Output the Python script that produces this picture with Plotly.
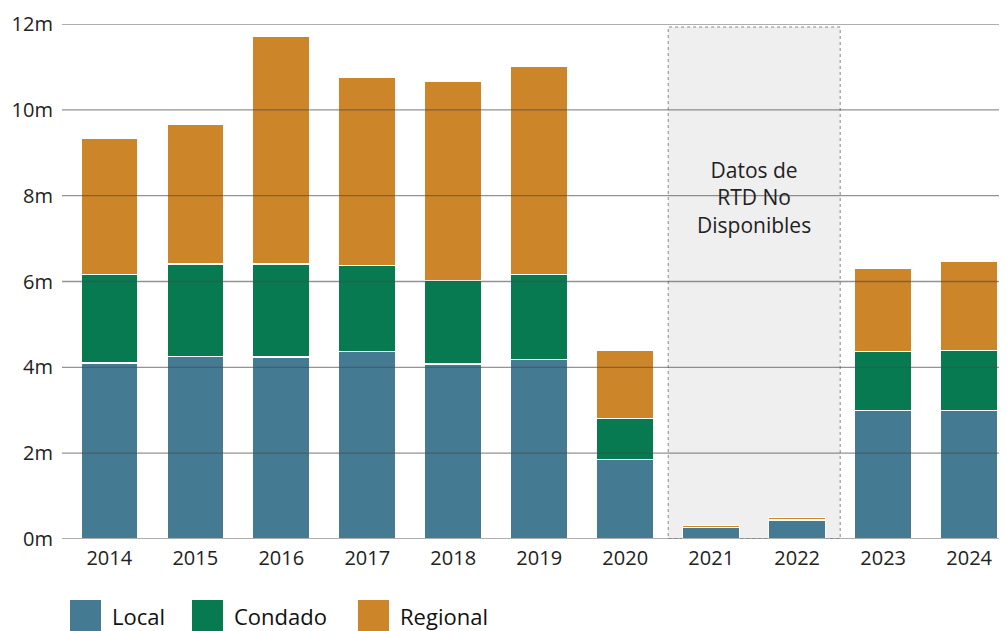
import plotly.graph_objects as go

years = ["2014", "2015", "2016", "2017", "2018", "2019", "2020", "2021", "2022", "2023", "2024"]
local = [4.10, 4.26, 4.24, 4.36, 4.08, 4.19, 1.86, 0.26, 0.44, 3.00, 3.00]
condado = [2.07, 2.15, 2.17, 2.02, 1.95, 1.98, 0.94, 0.01, 0.01, 1.36, 1.39]
regional = [3.17, 3.26, 5.31, 4.38, 4.64, 4.85, 1.60, 0.05, 0.06, 1.95, 2.09]
series_names = ["Local", "Condado", "Regional"]
colors = ["#457A93", "#077A51", "#CD852A"]
y_ticks = [0, 2, 4, 6, 8, 10, 12]
y_ticktext = ["0m", "2m", "4m", "6m", "8m", "10m", "12m"]
na_years = ["2021", "2022"]
na_text = "Datos de<br>RTD No<br>Disponibles"

FONT = "Open Sans, Inter, sans-serif"

fig = go.Figure()
for name, vals, col in zip(series_names, [local, condado, regional], colors):
    fig.add_trace(go.Bar(
        x=years, y=vals, name=name, marker_color=col,
        marker_line_color="white", marker_line_width=1.2, showlegend=False,
    ))

# shaded "not available" region
i0 = years.index(na_years[0]) - 0.5
i1 = years.index(na_years[-1]) + 0.5
fig.add_shape(type="rect", xref="x", yref="y", x0=i0, x1=i1, y0=0, y1=y_ticks[-1] - 0.07,
              fillcolor="#EFEFEF", line=dict(color="#888888", width=1, dash="dot"), layer="below")
fig.add_annotation(x=(i0 + i1) / 2, y=7.95, xref="x", yref="y", text=na_text, showarrow=False,
                   font=dict(family=FONT, size=21, color="#222222"), align="center")

# gridlines drawn above bars
for t in y_ticks:
    fig.add_shape(type="line", xref="paper", yref="y", x0=0, x1=1, y0=t, y1=t,
                  line=dict(color="rgba(75,75,75,0.6)", width=1.3), layer="above")

# page offset (browser body margin) compensation
OFF = 8
W, H = 1007 - OFF, 631 - OFF
ml, mr, mt, mb = 62 - OFF, 0, 24 - OFF, 631 - 539
pw, ph = W - ml - mr, H - mt - mb

# manual legend with large swatches (positions in page pixels)
leg_x = [70, 192, 358]
for name, col, lx in zip(series_names, colors, leg_x):
    x0 = (lx - OFF - ml) / pw
    x1 = (lx + 31 - OFF - ml) / pw
    y0 = -(640 - 539) / ph
    y1 = -(600 - 539) / ph
    fig.add_shape(type="rect", xref="paper", yref="paper", x0=x0, x1=x1, y0=y0, y1=y1,
                  fillcolor=col, line=dict(width=0))
    fig.add_annotation(xref="paper", yref="paper", x=(lx + 40 - OFF - ml) / pw, y=-(616 - 539) / ph,
                       text=name, showarrow=False, xanchor="left", yanchor="middle",
                       font=dict(family=FONT, size=22, color="#111111"))

fig.update_layout(
    barmode="stack", bargap=0.34,
    width=W, height=H,
    margin=dict(l=ml, r=mr, t=mt, b=mb),
    plot_bgcolor="white", paper_bgcolor="white",
    font=dict(family=FONT, size=20, color="#222222"),
    showlegend=False,
)
fig.update_xaxes(range=[-0.55, 10.44], showgrid=False, showline=False, ticks="",
                 ticklabelstandoff=5, tickfont=dict(size=20, color="#222222"))
fig.update_yaxes(range=[0, 12], tickvals=y_ticks, ticktext=y_ticktext, showgrid=False,
                 zeroline=False, showline=False, ticks="", ticklabelstandoff=8,
                 tickfont=dict(size=20, color="#222222"))

fig.write_html("out.html")
